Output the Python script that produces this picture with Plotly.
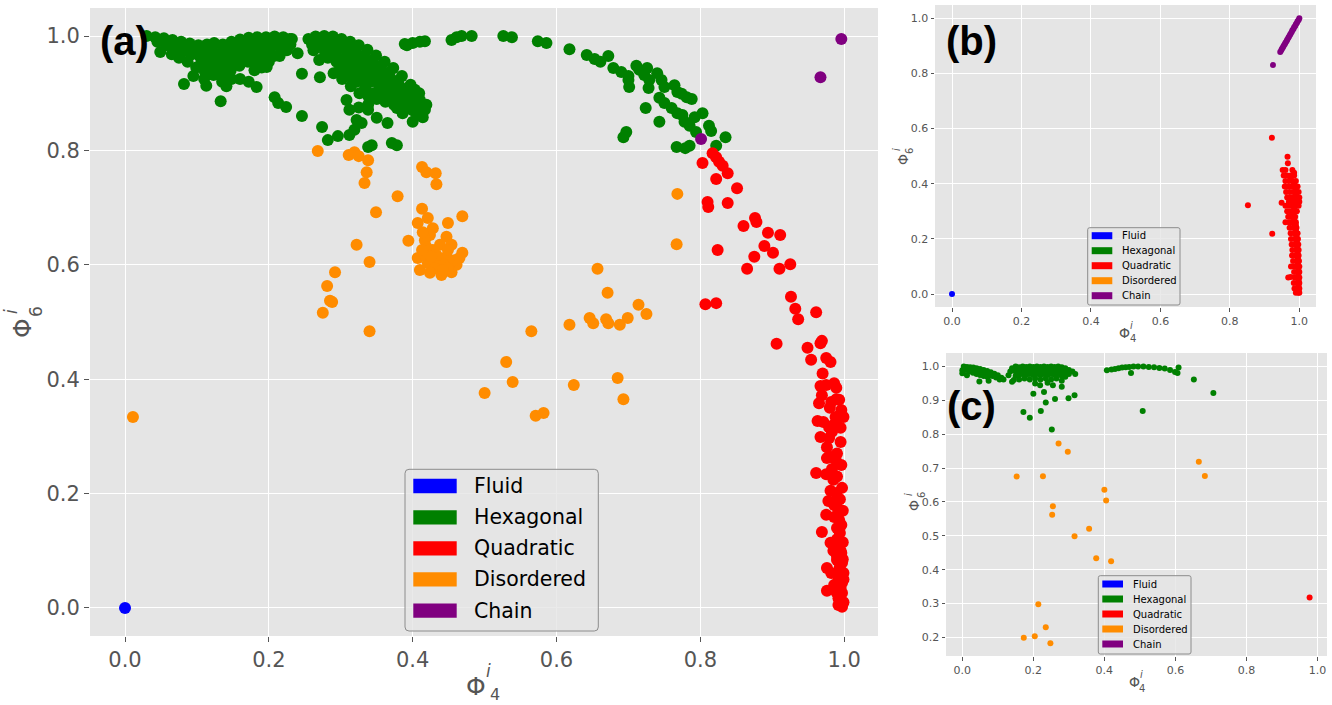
import plotly.graph_objects as go

# ---------------- data ----------------
categories = ["Fluid", "Hexagonal", "Quadratic", "Disordered", "Chain"]
colors = {"Fluid": "#0000FF", "Hexagonal": "#008000", "Quadratic": "#FF0000",
          "Disordered": "#FF8C00", "Chain": "#800080"}

# Panel (a): (Phi4, Phi6)
a_fluid = [(0.0, 0.0)]
a_hexagonal = [
    # left band, top row
    (0.030, 1.000), (0.042, 0.998), (0.054, 0.996), (0.066, 0.993), (0.078, 0.990), (0.090, 0.987),
    (0.102, 0.984), (0.114, 0.985), (0.124, 0.988), (0.136, 0.985), (0.148, 0.990), (0.160, 0.994),
    (0.172, 0.997), (0.184, 0.998), (0.196, 0.998), (0.208, 0.999), (0.220, 0.998), (0.232, 0.995),
    (0.051, 0.993), (0.063, 0.988), (0.075, 0.984), (0.087, 0.978), (0.099, 0.974), (0.111, 0.972),
    (0.123, 0.972), (0.135, 0.972), (0.147, 0.976), (0.159, 0.981), (0.171, 0.986), (0.183, 0.990),
    (0.195, 0.990), (0.207, 0.992), (0.219, 0.990),
    # left band, middle row
    (0.045, 0.990), (0.057, 0.984), (0.069, 0.979), (0.081, 0.973), (0.093, 0.968), (0.105, 0.963),
    (0.117, 0.960), (0.129, 0.958), (0.141, 0.962), (0.153, 0.968), (0.165, 0.975), (0.177, 0.980),
    (0.189, 0.982), (0.201, 0.985), (0.213, 0.983),
    (0.105, 0.950), (0.117, 0.948), (0.129, 0.945), (0.141, 0.948), (0.153, 0.955), (0.165, 0.962),
    (0.177, 0.968), (0.189, 0.970), (0.201, 0.975), (0.135, 0.920), (0.148, 0.925), (0.110, 0.925),
    (0.095, 0.930), (0.180, 0.940), (0.190, 0.945), (0.200, 0.955), (0.215, 0.965), (0.225, 0.975),
    (0.230, 0.985),
    # left band, lower row
    (0.075, 0.962), (0.087, 0.955), (0.099, 0.945), (0.111, 0.938), (0.123, 0.932), (0.135, 0.935),
    (0.147, 0.940), (0.159, 0.948), (0.171, 0.955), (0.183, 0.958), (0.195, 0.962), (0.207, 0.965),
    (0.160, 0.925), (0.172, 0.920), (0.120, 0.945),
    # left band, scattered
    (0.049, 0.972), (0.065, 0.968), (0.082, 0.916), (0.113, 0.913), (0.133, 0.886), (0.141, 0.912),
    (0.183, 0.911), (0.197, 0.946), (0.208, 0.893), (0.213, 0.883), (0.224, 0.876), (0.246, 0.860),
    (0.246, 0.934), (0.240, 0.970), (0.229, 0.995),
    # second cluster, rows
    (0.255, 0.995), (0.265, 0.999), (0.277, 1.000), (0.289, 0.999), (0.301, 0.995), (0.313, 0.990),
    (0.325, 0.984), (0.337, 0.976), (0.349, 0.966), (0.361, 0.955), (0.373, 0.944), (0.385, 0.930),
    (0.397, 0.915), (0.409, 0.900), (0.419, 0.880),
    (0.260, 0.985), (0.272, 0.992), (0.284, 0.993), (0.296, 0.988), (0.308, 0.982), (0.320, 0.975),
    (0.332, 0.966), (0.344, 0.958), (0.356, 0.948), (0.368, 0.937), (0.380, 0.922), (0.392, 0.908),
    (0.404, 0.893), (0.415, 0.872),
    (0.262, 0.975), (0.274, 0.983), (0.286, 0.985), (0.298, 0.978), (0.310, 0.970), (0.322, 0.962),
    (0.334, 0.952), (0.346, 0.944), (0.358, 0.935), (0.370, 0.925), (0.382, 0.912), (0.394, 0.900),
    (0.406, 0.885),
    (0.278, 0.972), (0.290, 0.968), (0.302, 0.960), (0.314, 0.952), (0.326, 0.944), (0.338, 0.936),
    (0.350, 0.927), (0.362, 0.918), (0.374, 0.910), (0.386, 0.900), (0.398, 0.888), (0.410, 0.875),
    (0.270, 0.958), (0.282, 0.962), (0.294, 0.955), (0.306, 0.947), (0.318, 0.938), (0.330, 0.928),
    (0.342, 0.920), (0.354, 0.910), (0.366, 0.900), (0.378, 0.893), (0.390, 0.880), (0.400, 0.870),
    (0.298, 0.940), (0.310, 0.930), (0.322, 0.920), (0.334, 0.910), (0.346, 0.900), (0.358, 0.897),
    (0.370, 0.890), (0.382, 0.885), (0.394, 0.875), (0.406, 0.865),
    (0.290, 0.935), (0.302, 0.925), (0.314, 0.912), (0.326, 0.900), (0.338, 0.895), (0.350, 0.890),
    (0.362, 0.885), (0.374, 0.880), (0.386, 0.865), (0.325, 0.875), (0.338, 0.880),
    # second cluster, scattered
    (0.271, 0.928), (0.274, 0.841), (0.282, 0.818), (0.296, 0.825), (0.312, 0.827), (0.319, 0.836),
    (0.322, 0.853), (0.329, 0.848), (0.338, 0.806), (0.343, 0.809), (0.350, 0.857), (0.365, 0.848),
    (0.371, 0.813), (0.378, 0.809), (0.400, 0.850), (0.414, 0.858), (0.312, 0.871), (0.308, 0.888),
    (0.338, 0.871), (0.378, 0.874), (0.417, 0.871), (0.410, 0.888), (0.389, 0.893), (0.403, 0.906),
    # upper arc
    (0.389, 0.986), (0.392, 0.984), (0.400, 0.988), (0.410, 0.990), (0.417, 0.991), (0.454, 0.993),
    (0.461, 0.998), (0.468, 1.000), (0.482, 1.000), (0.526, 1.000), (0.538, 0.998), (0.574, 0.991),
    (0.586, 0.988), (0.618, 0.977), (0.642, 0.967), (0.653, 0.960), (0.661, 0.955), (0.672, 0.965),
    (0.679, 0.944), (0.690, 0.937), (0.700, 0.930), (0.701, 0.911), (0.700, 0.923), (0.711, 0.948),
    (0.715, 0.941), (0.722, 0.932), (0.726, 0.944), (0.729, 0.923), (0.728, 0.909), (0.740, 0.935),
    (0.746, 0.923), (0.750, 0.911), (0.764, 0.914), (0.768, 0.902), (0.774, 0.899), (0.781, 0.893),
    (0.788, 0.890), (0.743, 0.892), (0.750, 0.883), (0.760, 0.874), (0.768, 0.865), (0.775, 0.862),
    (0.778, 0.850), (0.785, 0.843), (0.792, 0.858), (0.803, 0.865), (0.812, 0.843), (0.815, 0.834),
    (0.835, 0.823), (0.822, 0.808), (0.785, 0.808), (0.779, 0.804), (0.767, 0.806), (0.743, 0.850),
    (0.724, 0.874), (0.697, 0.832), (0.693, 0.823), (0.794, 0.832),
]
a_quadratic = [
    (0.817, 0.795), (0.822, 0.788), (0.826, 0.780), (0.831, 0.773), (0.838, 0.760), (0.803, 0.778),
    (0.822, 0.750), (0.851, 0.734), (0.810, 0.710), (0.811, 0.701), (0.838, 0.708), (0.876, 0.682),
    (0.878, 0.675), (0.860, 0.668), (0.894, 0.656), (0.911, 0.652), (0.824, 0.626), (0.889, 0.633),
    (0.875, 0.614), (0.901, 0.621), (0.865, 0.593), (0.910, 0.593), (0.925, 0.601), (0.807, 0.531),
    (0.822, 0.533), (0.926, 0.544), (0.932, 0.523), (0.936, 0.505), (0.961, 0.517), (0.906, 0.462),
    (0.949, 0.455), (0.967, 0.463), (0.969, 0.467), (0.954, 0.434), (0.975, 0.437), (0.981, 0.430),
    (0.986, 0.393), (0.989, 0.385), (0.967, 0.388), (0.969, 0.372), (0.965, 0.358), (0.982, 0.360),
    (0.989, 0.365), (0.993, 0.364), (0.996, 0.346), (0.992, 0.334), (0.999, 0.334), (0.988, 0.334),
    (0.963, 0.327), (0.971, 0.325), (0.979, 0.316), (0.983, 0.308), (0.967, 0.299), (0.979, 0.297),
    (0.976, 0.281), (0.976, 0.262), (0.982, 0.264), (0.961, 0.236), (0.975, 0.234), (0.983, 0.243),
    (0.985, 0.224), (0.981, 0.205), (0.989, 0.201), (0.978, 0.187), (0.989, 0.184), (0.992, 0.171),
    (0.975, 0.163), (0.986, 0.159), (0.993, 0.154), (0.990, 0.140), (0.969, 0.133), (0.994, 0.131),
    (0.981, 0.114), (0.993, 0.107), (0.996, 0.096), (0.990, 0.084), (0.997, 0.079), (0.976, 0.070),
    (0.982, 0.061), (0.993, 0.066), (0.999, 0.061), (0.992, 0.049), (0.997, 0.044), (0.976, 0.030),
    (0.989, 0.028), (0.997, 0.026), (0.992, 0.017), (0.999, 0.010), (0.992, 0.005), (0.997, 0.002),
    (0.995, 0.290), (0.990, 0.270), (0.996, 0.250), (0.990, 0.230), (0.997, 0.210), (0.994, 0.190),
    (0.998, 0.170), (0.996, 0.145), (0.990, 0.120), (0.998, 0.115), (0.995, 0.100), (0.990, 0.090),
    (0.998, 0.085), (0.994, 0.072), (0.999, 0.050), (0.995, 0.035), (0.986, 0.040), (0.985, 0.100),
    (0.986, 0.180), (0.988, 0.260), (0.980, 0.350), (0.975, 0.390), (0.970, 0.410), (0.985, 0.320),
    (0.995, 0.315),
]
a_disordered = [
    (0.011, 0.334),
    (0.268, 0.799), (0.311, 0.792), (0.319, 0.797), (0.325, 0.790), (0.338, 0.783), (0.336, 0.762),
    (0.333, 0.743), (0.379, 0.720), (0.349, 0.692), (0.322, 0.635), (0.340, 0.605), (0.292, 0.587),
    (0.281, 0.563), (0.285, 0.537), (0.288, 0.535), (0.275, 0.516), (0.340, 0.484),
    (0.413, 0.771), (0.419, 0.762), (0.432, 0.760), (0.433, 0.741), (0.413, 0.698), (0.421, 0.682),
    (0.449, 0.673), (0.469, 0.685), (0.407, 0.673), (0.394, 0.642),
    (0.428, 0.664), (0.424, 0.652), (0.417, 0.643), (0.447, 0.649), (0.454, 0.635), (0.469, 0.621),
    (0.461, 0.600), (0.407, 0.612), (0.410, 0.591), (0.440, 0.582), (0.454, 0.587), (0.428, 0.626),
    (0.435, 0.608), (0.421, 0.603), (0.447, 0.614), (0.419, 0.631), (0.438, 0.635), (0.431, 0.594),
    (0.444, 0.600), (0.417, 0.617), (0.458, 0.608), (0.449, 0.626), (0.424, 0.586), (0.465, 0.612),
    (0.433, 0.617), (0.414, 0.657), (0.449, 0.594), (0.413, 0.626), (0.442, 0.591), (0.426, 0.614),
    (0.768, 0.724), (0.767, 0.636), (0.657, 0.593), (0.671, 0.551), (0.714, 0.530), (0.725, 0.514),
    (0.699, 0.507), (0.688, 0.495), (0.672, 0.498), (0.669, 0.505), (0.651, 0.498), (0.646, 0.507),
    (0.618, 0.495), (0.565, 0.484), (0.685, 0.402), (0.693, 0.365), (0.530, 0.430), (0.539, 0.395),
    (0.500, 0.376), (0.571, 0.336), (0.582, 0.341), (0.624, 0.390),
]
a_chain = [(0.996, 0.995), (0.967, 0.928), (0.801, 0.820)]

# Panel (b)
b_fluid = [(0.0, 0.0)]
b_hexagonal = []
b_quadratic = [
    (0.921, 0.567), (0.852, 0.322), (0.922, 0.219), (0.966, 0.498), (0.967, 0.474), (0.949, 0.331),
    (0.975, 0.260), (0.975, 0.062),
    (0.952, 0.450), (0.960, 0.450), (0.980, 0.450), (0.955, 0.430), (0.965, 0.430), (0.975, 0.430),
    (0.985, 0.430), (0.960, 0.410), (0.970, 0.410), (0.980, 0.410), (0.990, 0.410), (0.958, 0.390),
    (0.968, 0.390), (0.978, 0.390), (0.988, 0.390), (0.995, 0.390), (0.962, 0.370), (0.972, 0.370),
    (0.982, 0.370), (0.992, 0.370), (0.998, 0.370), (0.965, 0.350), (0.975, 0.350), (0.985, 0.350),
    (0.995, 0.350), (1.000, 0.350), (0.970, 0.335), (0.980, 0.335), (0.990, 0.335), (1.000, 0.335),
    (0.960, 0.320), (0.970, 0.320), (0.980, 0.320), (0.990, 0.320), (0.998, 0.320), (0.965, 0.300),
    (0.975, 0.300), (0.985, 0.300), (0.993, 0.300), (0.968, 0.280), (0.978, 0.280), (0.988, 0.280),
    (0.960, 0.260), (0.970, 0.260), (0.980, 0.260), (0.990, 0.260), (0.972, 0.240), (0.982, 0.240),
    (0.992, 0.240), (0.975, 0.220), (0.985, 0.220), (0.995, 0.220), (0.976, 0.200), (0.986, 0.200),
    (0.996, 0.200), (0.978, 0.180), (0.988, 0.180), (0.997, 0.180), (0.980, 0.160), (0.990, 0.160),
    (0.998, 0.160), (0.979, 0.140), (0.990, 0.140), (0.998, 0.140), (0.982, 0.120), (0.992, 0.120),
    (0.999, 0.120), (0.976, 0.100), (0.985, 0.100), (0.994, 0.100), (1.000, 0.100), (0.985, 0.080),
    (0.995, 0.080), (1.000, 0.080), (0.968, 0.060), (0.987, 0.060), (0.996, 0.060), (1.000, 0.060),
    (0.984, 0.040), (0.993, 0.040), (1.000, 0.040), (0.986, 0.020), (0.995, 0.020), (1.000, 0.020),
    (0.990, 0.005), (0.997, 0.005), (1.000, 0.005),
    (0.985, 0.440), (0.975, 0.420), (0.985, 0.400), (0.990, 0.380), (0.990, 0.360), (0.995, 0.340),
    (0.985, 0.310), (0.980, 0.290), (0.985, 0.270), (0.990, 0.250), (0.990, 0.230), (0.992, 0.210),
    (0.993, 0.190), (0.994, 0.170), (0.995, 0.150), (0.996, 0.130), (0.996, 0.110), (0.997, 0.090),
    (0.997, 0.070), (0.998, 0.050), (0.998, 0.030), (0.998, 0.012),
]
b_disordered = []
b_chain = [
    (0.924, 0.830),
    (0.945, 0.878), (0.948, 0.884), (0.950, 0.889), (0.953, 0.895), (0.955, 0.900), (0.958, 0.906),
    (0.960, 0.911), (0.963, 0.917), (0.965, 0.922), (0.968, 0.928), (0.970, 0.933), (0.973, 0.939),
    (0.975, 0.944), (0.978, 0.950), (0.980, 0.956), (0.983, 0.961), (0.985, 0.967), (0.988, 0.972),
    (0.990, 0.978), (0.993, 0.983), (0.995, 0.989), (0.998, 0.994), (1.000, 1.000),
]

# Panel (c)
c_fluid = []
c_hexagonal = [
    # left arc
    (0.000, 0.989), (0.000, 0.980), (0.004, 1.000), (0.013, 0.999), (0.022, 0.998), (0.031, 0.997),
    (0.040, 0.995), (0.050, 0.993), (0.060, 0.990), (0.070, 0.987), (0.080, 0.983), (0.090, 0.979),
    (0.100, 0.974), (0.110, 0.967), (0.116, 0.962), (0.013, 0.974), (0.020, 0.985), (0.030, 0.982),
    (0.040, 0.978), (0.050, 0.975), (0.060, 0.972), (0.070, 0.970), (0.080, 0.975), (0.048, 0.956),
    (0.074, 0.958), (0.010, 0.990), (0.025, 0.990), (0.035, 0.988), (0.045, 0.985), (0.055, 0.982),
    (0.065, 0.980), (0.085, 0.972), (0.095, 0.968), (0.105, 0.962),
    # middle blob
    (0.130, 0.974), (0.140, 0.955), (0.135, 0.985), (0.140, 0.995), (0.150, 1.000), (0.160, 0.998),
    (0.170, 1.000), (0.180, 0.999), (0.190, 1.000), (0.200, 0.999), (0.210, 1.000), (0.220, 0.999),
    (0.230, 1.000), (0.240, 0.999), (0.250, 1.000), (0.260, 0.999), (0.270, 1.000), (0.280, 0.998),
    (0.290, 0.995), (0.300, 0.990), (0.310, 0.985), (0.318, 0.978), (0.150, 0.985), (0.160, 0.988),
    (0.170, 0.990), (0.180, 0.988), (0.190, 0.990), (0.200, 0.988), (0.210, 0.990), (0.220, 0.988),
    (0.230, 0.990), (0.240, 0.988), (0.250, 0.990), (0.260, 0.988), (0.270, 0.990), (0.280, 0.985),
    (0.290, 0.982), (0.300, 0.978), (0.150, 0.972), (0.160, 0.975), (0.170, 0.978), (0.180, 0.975),
    (0.190, 0.978), (0.200, 0.975), (0.210, 0.978), (0.220, 0.975), (0.230, 0.978), (0.240, 0.975),
    (0.250, 0.978), (0.260, 0.975), (0.270, 0.978), (0.280, 0.972), (0.290, 0.970), (0.160, 0.962),
    (0.175, 0.965), (0.190, 0.962), (0.205, 0.965), (0.220, 0.962), (0.235, 0.965), (0.250, 0.962),
    (0.265, 0.965), (0.280, 0.958), (0.200, 0.920), (0.230, 0.925), (0.219, 0.945), (0.255, 0.945),
    (0.280, 0.940), (0.172, 0.866), (0.190, 0.849), (0.221, 0.869), (0.235, 0.894), (0.261, 0.904),
    (0.299, 0.906), (0.316, 0.915), (0.252, 0.814), (0.145, 0.960), (0.205, 0.950), (0.240, 0.952),
    # right arc
    (0.407, 0.989), (0.420, 0.991), (0.430, 0.993), (0.440, 0.995), (0.450, 0.997), (0.460, 0.998),
    (0.470, 0.999), (0.482, 1.000), (0.495, 1.000), (0.510, 1.000), (0.525, 0.999), (0.540, 0.998),
    (0.555, 0.996), (0.570, 0.994), (0.585, 0.990), (0.599, 0.984), (0.609, 0.997), (0.606, 0.981),
    (0.475, 0.981), (0.508, 0.869), (0.652, 0.962), (0.707, 0.922),
]
c_quadratic = [(0.978, 0.318)]
c_disordered = [
    (0.271, 0.773), (0.297, 0.748), (0.153, 0.675), (0.227, 0.676), (0.666, 0.719), (0.683, 0.677),
    (0.400, 0.636), (0.405, 0.604), (0.255, 0.587), (0.253, 0.562), (0.357, 0.521), (0.316, 0.499),
    (0.377, 0.434), (0.419, 0.425), (0.214, 0.298), (0.235, 0.230), (0.173, 0.199), (0.204, 0.203),
    (0.248, 0.183),
]
c_chain = []

# Tick values
a_ticks = [0.0, 0.2, 0.4, 0.6, 0.8, 1.0]
b_ticks = [0.0, 0.2, 0.4, 0.6, 0.8, 1.0]
c_xticks = [0.0, 0.2, 0.4, 0.6, 0.8, 1.0]
c_yticks = [0.2, 0.3, 0.4, 0.5, 0.6, 0.7, 0.8, 0.9, 1.0]

# ---------------- figure ----------------
W, H = 1332, 705
def fx(p): return p / W
def fy(p): return 1 - p / H

fig = go.Figure()

panels = [
    ("x", "y", 12, [("Hexagonal", a_hexagonal), ("Quadratic", a_quadratic), ("Disordered", a_disordered),
                    ("Fluid", a_fluid), ("Chain", a_chain)]),
    ("x2", "y2", 6, [("Hexagonal", b_hexagonal), ("Quadratic", b_quadratic), ("Disordered", b_disordered),
                     ("Fluid", b_fluid), ("Chain", b_chain)]),
    ("x3", "y3", 6, [("Hexagonal", c_hexagonal), ("Quadratic", c_quadratic), ("Disordered", c_disordered),
                     ("Fluid", c_fluid), ("Chain", c_chain)]),
]
for xa, ya, size, series in panels:
    for name, pts in series:
        if not pts:
            continue
        fig.add_trace(go.Scatter(
            x=[p[0] for p in pts], y=[p[1] for p in pts], mode="markers",
            marker=dict(color=colors[name], size=size, line=dict(width=0)),
            name=name, showlegend=False, xaxis=xa, yaxis=ya, hoverinfo="skip"))

BG = "#E5E5E5"
TICKC = "#555555"

def axis(domain, rng, tickvals, fsize, ticklen, anchor):
    return dict(domain=domain, range=rng, tickvals=tickvals,
                ticktext=[f"{v:.1f}" for v in tickvals],
                showgrid=True, gridcolor="white", gridwidth=1.3 if fsize > 15 else 0.8,
                zeroline=False, showline=False, ticks="outside", ticklen=ticklen,
                tickwidth=1, tickcolor=TICKC,
                tickfont=dict(family="DejaVu Sans", size=fsize, color=TICKC),
                anchor=anchor, fixedrange=True)

fig.update_layout(
    width=W, height=H, margin=dict(l=0, r=0, t=0, b=0),
    paper_bgcolor="white", plot_bgcolor=BG, showlegend=False,
    xaxis=axis([fx(90), fx(878)], [-0.0487, 1.047], a_ticks, 21, 5, "y"),
    yaxis=axis([fy(636), fy(8)], [-0.049, 1.049], a_ticks, 21, 5, "x"),
    xaxis2=axis([fx(935), fx(1316)], [-0.049, 1.048], b_ticks, 11, 3.5, "y2"),
    yaxis2=axis([fy(307), fy(5)], [-0.047, 1.048], b_ticks, 11, 3.5, "x2"),
    xaxis3=axis([fx(946), fx(1327)], [-0.046, 1.027], c_xticks, 11, 3.5, "y3"),
    yaxis3=axis([fy(656), fy(353)], [0.145, 1.04], c_yticks, 11, 3.5, "x3"),
)

ann = []
def text(x, y, s, size, angle=0, family="DejaVu Sans", color="#555555"):
    ann.append(dict(x=fx(x), y=fy(y), xref="paper", yref="paper", text=s, showarrow=False,
                    xanchor="center", yanchor="middle", textangle=angle,
                    font=dict(family=family, size=size, color=color)))

# axis titles (Phi with stacked sub/superscripts)
# (a)
text(475.5, 686, "Φ", 25)
text(488.5, 671, "<i>i</i>", 17)
text(494.5, 694, "4", 16)
text(22, 328, "Φ", 25, -90)
text(11, 312, "<i>i</i>", 17, -90)
text(36, 312, "6", 17, -90)
# (b)
text(1124, 333, "Φ", 14)
text(1131, 325, "<i>i</i>", 10)
text(1133, 339, "4", 10)
text(903, 160, "Φ", 14, -90)
text(897, 150, "<i>i</i>", 10, -90)
text(910, 151, "6", 10, -90)
# (c)
text(1134.5, 682, "Φ", 14)
text(1141, 674, "<i>i</i>", 10)
text(1142, 688, "4", 10)
text(914, 506, "Φ", 14, -90)
text(908, 495, "<i>i</i>", 10, -90)
text(921, 495, "6", 10, -90)

# panel labels
text(124.5, 41, "<b>(a)</b>", 40, family="Liberation Sans, Arial, sans-serif", color="black")
text(971, 41, "<b>(b)</b>", 40, family="Liberation Sans, Arial, sans-serif", color="black")
text(971, 406, "<b>(c)</b>", 40, family="Liberation Sans, Arial, sans-serif", color="black")

shapes = []
def legend(x0, y0, x1, y1, rows, px0, px1, ph, tx, fsize):
    r = 4 if fsize > 15 else 2
    path = (f"M{fx(x0 + r)},{fy(y0)} L{fx(x1 - r)},{fy(y0)} Q{fx(x1)},{fy(y0)} {fx(x1)},{fy(y0 + r)} "
            f"L{fx(x1)},{fy(y1 - r)} Q{fx(x1)},{fy(y1)} {fx(x1 - r)},{fy(y1)} "
            f"L{fx(x0 + r)},{fy(y1)} Q{fx(x0)},{fy(y1)} {fx(x0)},{fy(y1 - r)} "
            f"L{fx(x0)},{fy(y0 + r)} Q{fx(x0)},{fy(y0)} {fx(x0 + r)},{fy(y0)} Z")
    shapes.append(dict(type="path", xref="paper", yref="paper", path=path,
                       fillcolor="rgba(229,229,229,0.8)", line=dict(color="#8c8c8c", width=1)))
    for name, ry in zip(categories, rows):
        shapes.append(dict(type="rect", xref="paper", yref="paper",
                           x0=fx(px0), x1=fx(px1), y0=fy(ry - ph / 2), y1=fy(ry + ph / 2),
                           fillcolor=colors[name], line=dict(width=0)))
        ann.append(dict(x=fx(tx), y=fy(ry), xref="paper", yref="paper", text=name,
                        showarrow=False, xanchor="left", yanchor="middle",
                        font=dict(family="DejaVu Sans", size=fsize, color="black")))

legend(405, 469.3, 598.3, 631, [486, 517.3, 548.3, 579.3, 610.7], 413.3, 456.7, 14.3, 472, 20.5)
legend(1087.7, 227.7, 1180, 305, [235.7, 250.7, 265.7, 280.7, 295.7], 1091.7, 1112.3, 7, 1120, 10)
legend(1098.3, 575.7, 1191, 654, [584, 599, 614, 629, 644], 1102.3, 1123, 7, 1130.5, 10)

fig.update_layout(annotations=ann, shapes=shapes)

fig.write_html("out.html", config={"displayModeBar": False},
               post_script="document.body.style.margin='0';")
